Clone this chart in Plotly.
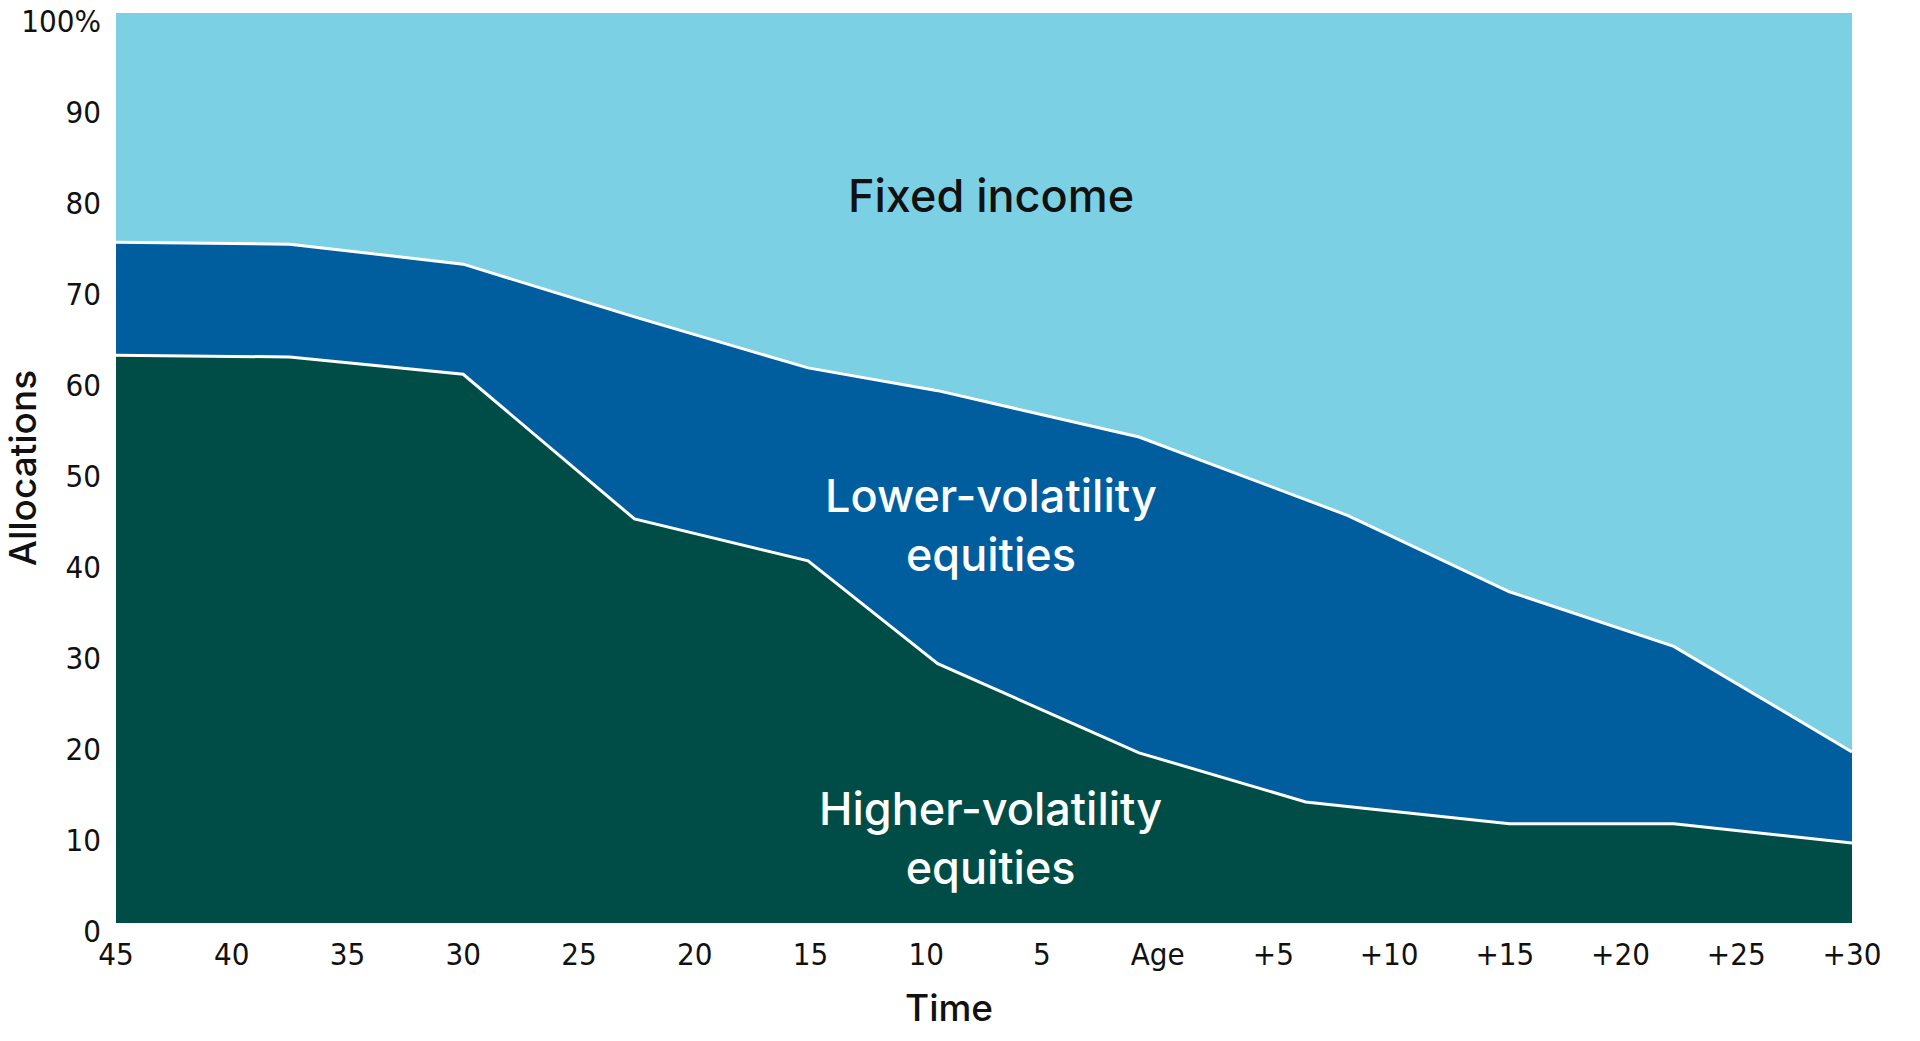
import plotly.graph_objects as go

# years relative to retirement age (negative = before)
years = [-45, -37.5, -30, -22.6, -15.1, -9.5, -0.8, 6.4, 8.2, 15.2, 22.3, 30]

higher_vol = [62.4, 62.2, 60.3, 44.4, 39.8, 28.5, 18.7, 13.3, 12.8, 10.9, 10.9, 8.8]
lower_vol = [12.4, 12.4, 12.1, 22.2, 21.2, 30.0, 34.7, 33.2, 32.0, 25.5, 19.5, 10.0]
fixed_income = [25.2, 25.4, 27.6, 33.4, 39.0, 41.5, 46.6, 53.5, 55.2, 63.6, 69.6, 81.2]

x_ticks = [-45, -40, -35, -30, -25, -20, -15, -10, -5, 0, 5, 10, 15, 20, 25, 30]
x_labels = ["45", "40", "35", "30", "25", "20", "15", "10", "5", "Age",
            "+5", "+10", "+15", "+20", "+25", "+30"]
y_ticks = [0, 10, 20, 30, 40, 50, 60, 70, 80, 90, 100]
y_labels = ["0", "10", "20", "30", "40", "50", "60", "70", "80", "90", "100%"]

dark_green = "#004d47"
mid_blue = "#005e9e"
light_blue = "#7bd0e3"

narrow = "Liberation Sans Narrow, DejaVu Sans Condensed, Roboto Condensed, Roboto, sans-serif"
label_font = "Inter, Noto Sans, sans-serif"

fig = go.Figure()
fig.add_trace(go.Scatter(x=years, y=higher_vol, stackgroup="alloc", mode="lines",
                         line=dict(color="white", width=3), fillcolor=dark_green,
                         name="Higher-volatility equities"))
fig.add_trace(go.Scatter(x=years, y=lower_vol, stackgroup="alloc", mode="lines",
                         line=dict(color="white", width=3), fillcolor=mid_blue,
                         name="Lower-volatility equities"))
fig.add_trace(go.Scatter(x=years, y=fixed_income, stackgroup="alloc", mode="lines",
                         line=dict(color="white", width=0), fillcolor=light_blue,
                         name="Fixed income"))

# area labels
area_labels = [
    ("Fixed income", 79.9, "#111111"),
    ("Lower-volatility<br>equities", 43.7, "white"),
    ("Higher-volatility<br>equities", 9.3, "white"),
]
for txt, yv, col in area_labels:
    fig.add_annotation(x=-7.2, y=yv, text=txt, showarrow=False,
                       font=dict(family=label_font, size=45, color=col, weight=500))

# axis titles placed by hand (the original sits off-centre)
title_font = dict(family=label_font, size=37, color="#111111", weight=500)
fig.add_annotation(xref="paper", yref="paper", x=-0.054, y=0.5, text="Allocations",
                   xanchor="center", yanchor="middle",
                   textangle=-90, showarrow=False, font=title_font)
fig.add_annotation(xref="paper", yref="paper", x=0.48, y=-0.093, text="Time",
                   xanchor="center", yanchor="middle",
                   showarrow=False, font=title_font)

fig.update_layout(
    width=1920, height=1041,
    margin=dict(l=116, r=68, t=13, b=118),
    plot_bgcolor="white", paper_bgcolor="white",
    showlegend=False,
    hovermode=False,
)
fig.update_xaxes(range=[-45, 30], tickvals=x_ticks, ticktext=x_labels,
                 showgrid=False, zeroline=False, ticks="", ticklabelstandoff=10,
                 ticklabeloverflow="allow", automargin=False,
                 tickfont=dict(family=narrow, size=31, color="#111111"))
fig.update_yaxes(range=[0, 100], tickvals=y_ticks, ticktext=y_labels,
                 showgrid=False, zeroline=False, ticks="", ticklabelstandoff=14,
                 ticklabelshift=8,
                 ticklabeloverflow="allow", automargin=False,
                 tickfont=dict(family=narrow, size=31, color="#111111"))

# page has a default body margin that shifts the figure; drop it
fig.write_html("out.html", config={"displayModeBar": False},
               post_script="document.body.style.margin='0';")
